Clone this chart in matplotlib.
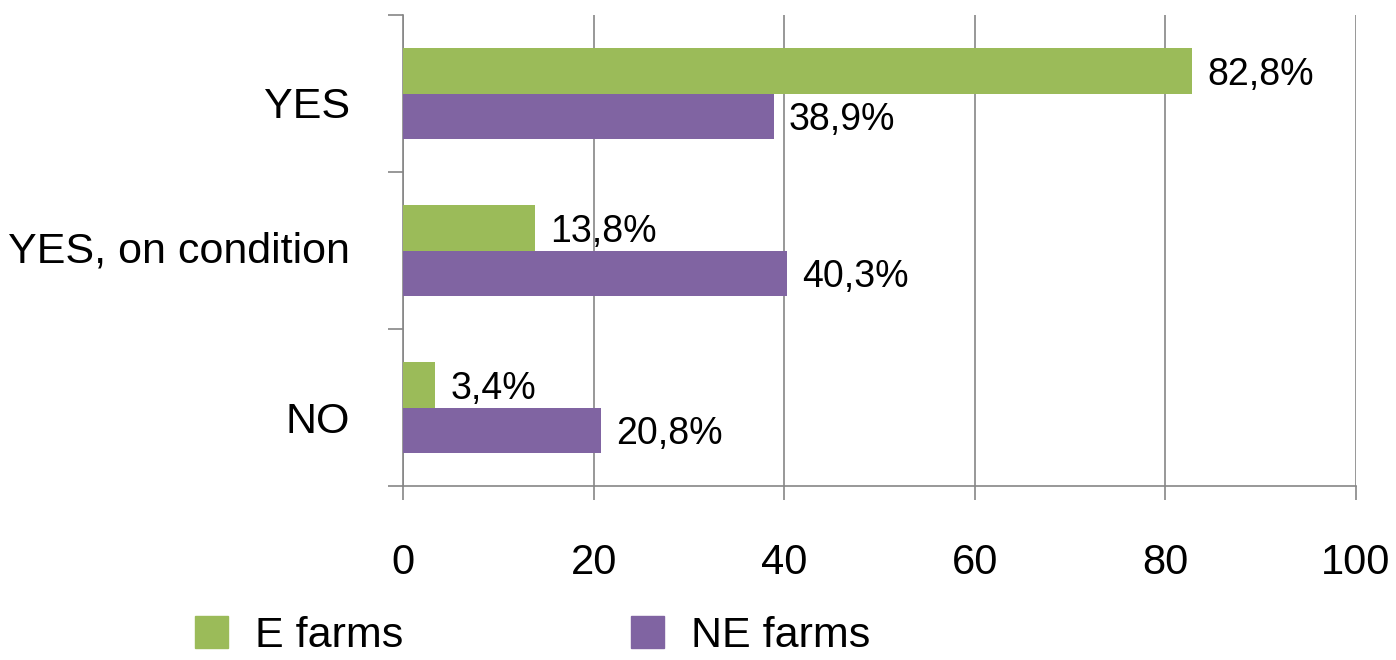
import matplotlib
matplotlib.use("Agg")
import matplotlib.pyplot as plt
import matplotlib.transforms as mtransforms
import numpy as np
from matplotlib.patches import Patch

categories = ["YES", "YES, on condition", "NO"]
e_farms = [82.8, 13.8, 3.4]
ne_farms = [38.9, 40.3, 20.8]
e_labels = ["82,8%", "13,8%", "3,4%"]
ne_labels = ["38,9%", "40,3%", "20,8%"]
x_ticks = [0, 20, 40, 60, 80, 100]

GREEN = "#9BBB59"
PURPLE = "#8064A2"
GRID = "#868686"

plt.rcParams["font.family"] = ["Liberation Sans", "DejaVu Sans"]

fig = plt.figure(figsize=(13.96, 6.6), dpi=100)
ax = fig.add_axes([403 / 1396, 1 - 486 / 660, 953 / 1396, 471 / 660])

y = np.arange(len(categories))
h = 0.29
ax.barh(y - h / 2, e_farms, height=h, color=GREEN, label="E farms", zorder=3)
ax.barh(y + h / 2, ne_farms, height=h, color=PURPLE, label="NE farms", zorder=3)

for i in range(len(categories)):
    ax.text(e_farms[i] + 1.6, y[i] - h / 2, e_labels[i], va="center_baseline", ha="left", fontsize=27)
    ax.text(ne_farms[i] + 1.6, y[i] + h / 2, ne_labels[i], va="center_baseline", ha="left", fontsize=27)

ax.set_xlim(0, 100)
ax.set_ylim(len(categories) - 0.5, -0.5)
ax.set_xticks(x_ticks)
ax.set_xticklabels([str(t) for t in x_ticks], fontsize=30)
ax.tick_params(axis="x", direction="out", length=10, width=1.2, color=GRID, pad=31)

ax.set_yticks(np.arange(-0.5, len(categories), 1.0))
ax.set_yticklabels([])
ax.tick_params(axis="y", which="major", direction="out", length=11, width=1.2, color=GRID)
ax.set_yticks(y, minor=True)
ax.set_yticklabels(categories, minor=True, fontsize=31)
ax.tick_params(axis="y", which="minor", length=0, pad=38)

# excel puts the category labels slightly off-centre
label_shift = [-0.09, 0.04, -0.10]
for lab, dy in zip(ax.get_yticklabels(minor=True), label_shift):
    lab.set_transform(lab.get_transform() + mtransforms.ScaledTranslation(0, dy, fig.dpi_scale_trans))

ax.grid(axis="x", color=GRID, linewidth=1.2, zorder=0)
for s in ["top", "right"]:
    ax.spines[s].set_visible(False)
for s in ["left", "bottom"]:
    ax.spines[s].set_color(GRID)
    ax.spines[s].set_linewidth(1.2)

handles = [Patch(color=GREEN), Patch(color=PURPLE)]
fig.legend(handles, ["E farms", "NE farms"], loc="lower left", bbox_to_anchor=(195 / 1396, 0.006),
           ncol=2, frameon=False, fontsize=31, borderpad=0, borderaxespad=0,
           handlelength=0.77, handleheight=0.78, handletextpad=0.62, columnspacing=5.3)

fig.savefig("out.png", dpi=100)
